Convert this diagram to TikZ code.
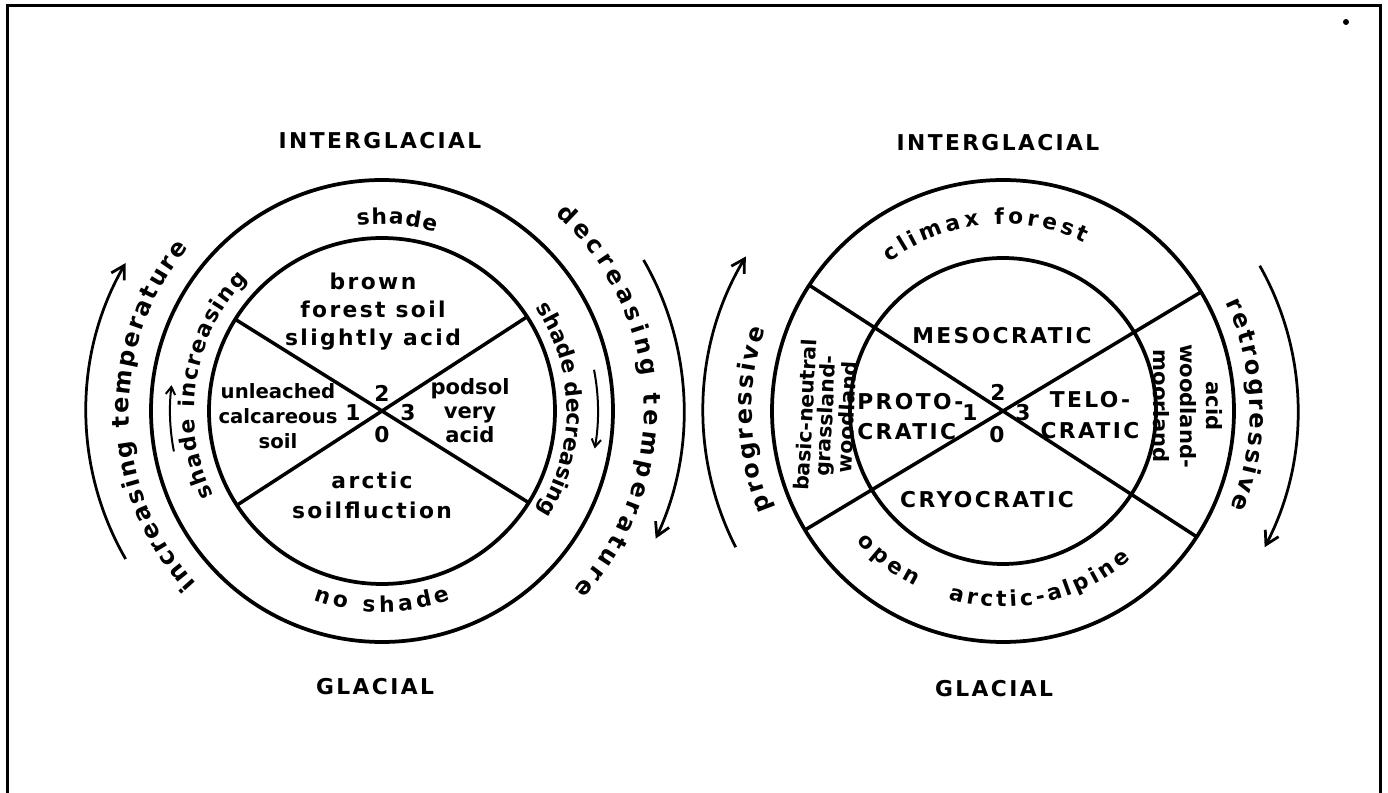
\documentclass[tikz,border=0pt]{standalone}
\usepackage{fontspec}
\usetikzlibrary{arrows.meta,decorations.text}
\newfontfamily\glfont{DejaVu Sans}[LetterSpace=11]
\newfontfamily\glarcfont{DejaVu Sans}
\newcommand\glf{\glfont\bfseries\fontsize{12.4}{15}\selectfont}
\newcommand\glfb[2][12.4]{\glfont\bfseries\fontsize{#1}{#2}\selectfont}
\newcommand\glft[2][11]{\glarcfont\bfseries\fontsize{#1}{#2}\selectfont}
\newcommand\glarc{\glarcfont\bfseries\fontsize{12.4}{15}\selectfont}
\newcommand\glarcbig{\glarcfont\bfseries\fontsize{13.6}{16}\selectfont}
\tikzset{
  ring/.style={line width=0.75mm},
  spoke/.style={line width=0.7mm},
  lbl/.style={font=\glf, align=center, inner sep=0pt},
  arr/.style={-{Straight Barb[length=2.6mm,width=3mm]}, line width=0.55mm},
  sarr/.style={-{Straight Barb[length=1.5mm,width=1.9mm]}, line width=0.4mm},
  arctext/.style={decorate, decoration={text along path, text align={fit to path}, text={|\glarc|#1}}},
  arctextbig/.style={decorate, decoration={text along path, text align={fit to path}, text={|\glarcbig|#1}}},
}
\begin{document}
\begin{tikzpicture}[x=0.2mm, y=0.2mm]
  \useasboundingbox (0,0) rectangle (1388,793);
  \draw[line width=0.6mm] (7,0) -- (7,787) -- (1380,787) -- (1380,0);
  \fill (1346,771) circle (3);

  % soil wheel
  \begin{scope}[shift={(382,382)}]
    \draw[ring] (0,0) circle (231);
    \draw[ring] (0,0) circle (173);
    \draw[spoke] (148:173) -- (328:173);
    \draw[spoke] (33:173) -- (213:173);
    \node[lbl] (intglL) at (-2,270) {INTERGLACIAL};
    \node[lbl] (glacL) at (-7,-276) {GLACIAL};
    \node[lbl, font={\glfb{15.9pt}}] (brownL) at (-9,99) {brown\\forest soil\\slightly acid};
    \node[lbl, font={\glft[11.2]{14.2pt}}] (calcL) at (-104,-5) {unleached\\calcareous\\soil};
    \node[lbl, font={\glft[12]{13.7pt}}] (podsL) at (88,0) {podsol\\very\\acid};
    \node[lbl, font={\glfb{17pt}}] (arctL) at (-10,-84) {arctic\\soilfluction};
    \node[lbl] (n2L) at (0,18) {2};
    \node[lbl] (n1L) at (-29,-2) {1};
    \node[lbl] (n3L) at (26,-2) {3};
    \node[lbl] (n0L) at (0,-24) {0};
    \path[arctext={shade}] (97.6:187) arc[start angle=97.6, end angle=73.3, radius=187];
    \path[arctext={no shade}] (250:201) arc[start angle=250, end angle=290, radius=201];
    \path[arctext={shade increasing}] (206.7:188) arc[start angle=206.7, end angle=135.6, radius=188];
    \path[arctext={shade decreasing}] (34:185) arc[start angle=34, end angle=-33, radius=185];
    \path[arctextbig={increasing temperature}] (223:253) arc[start angle=223, end angle=140, radius=253];
    \path[arctextbig={decreasing temperature}] (48.5:262) arc[start angle=48.5, end angle=-43, radius=262];
    \draw[arr] (210:296) arc[start angle=210, end angle=150, radius=296];
    \draw[arr] (30:302) arc[start angle=30, end angle=-25, radius=302];
    \draw[sarr] (191:212) arc[start angle=191, end angle=173, radius=212];
    \draw[sarr] (11:216) arc[start angle=11, end angle=-10, radius=216];
  \end{scope}

  % vegetation wheel
  \begin{scope}[shift={(1003,382)}]
    \draw[ring] (0,0) circle (231);
    \draw[ring] (0,0) circle (153);
    \draw[spoke] (147:231) -- (327:231);
    \draw[spoke] (31:231) -- (211:231);
    \node[lbl] (intglR) at (-5,268) {INTERGLACIAL};
    \node[lbl] (glacR) at (-9,-278) {GLACIAL};
    \node[lbl] (mesoR) at (-1,75) {MESOCRATIC};
    \node[lbl, align=left, anchor=west, font={\glfb{17pt}}] (protoR) at (-146,-6) {PROTO-\\CRATIC};
    \node[lbl, font={\glfb{18pt}}] (teloR) at (87,-4) {TELO-\\CRATIC};
    \node[lbl] (cryoR) at (-16,-89) {CRYOCRATIC};
    \node[lbl] (n1R) at (-33,-2) {1};
    \node[lbl] (n2R) at (-5,19) {2};
    \node[lbl] (n0R) at (-6,-24) {0};
    \node[lbl] (n3R) at (20,-2) {3};
    \node[lbl, rotate=87, font={\glft[11.6]{11.3pt}}] (basicR) at (-177,-5) {basic-neutral\\grassland-\\woodland};
    \node[lbl, rotate=-90, font={\glft[12]{15pt}}] (acidR) at (185,5) {acid\\woodland-\\moorland};
    \path[arctext={climax forest}] (127.4:187) arc[start angle=127.4, end angle=64.2, radius=187];
    \path[arctext={open}] (221.6:196) arc[start angle=221.6, end angle=243.4, radius=196];
    \path[arctext={arctic-alpine}] (253.8:196) arc[start angle=253.8, end angle=310.7, radius=196];
    \path[arctextbig={progressive}] (203:251) arc[start angle=203, end angle=161, radius=251];
    \path[arctextbig={retrogressive}] (26:247) arc[start angle=26, end angle=-23, radius=247];
    \draw[arr] (207:300) arc[start angle=207, end angle=149, radius=300];
    \draw[arr] (29.5:295) arc[start angle=29.5, end angle=-27.5, radius=295];
  \end{scope}
\end{tikzpicture}
\end{document}
